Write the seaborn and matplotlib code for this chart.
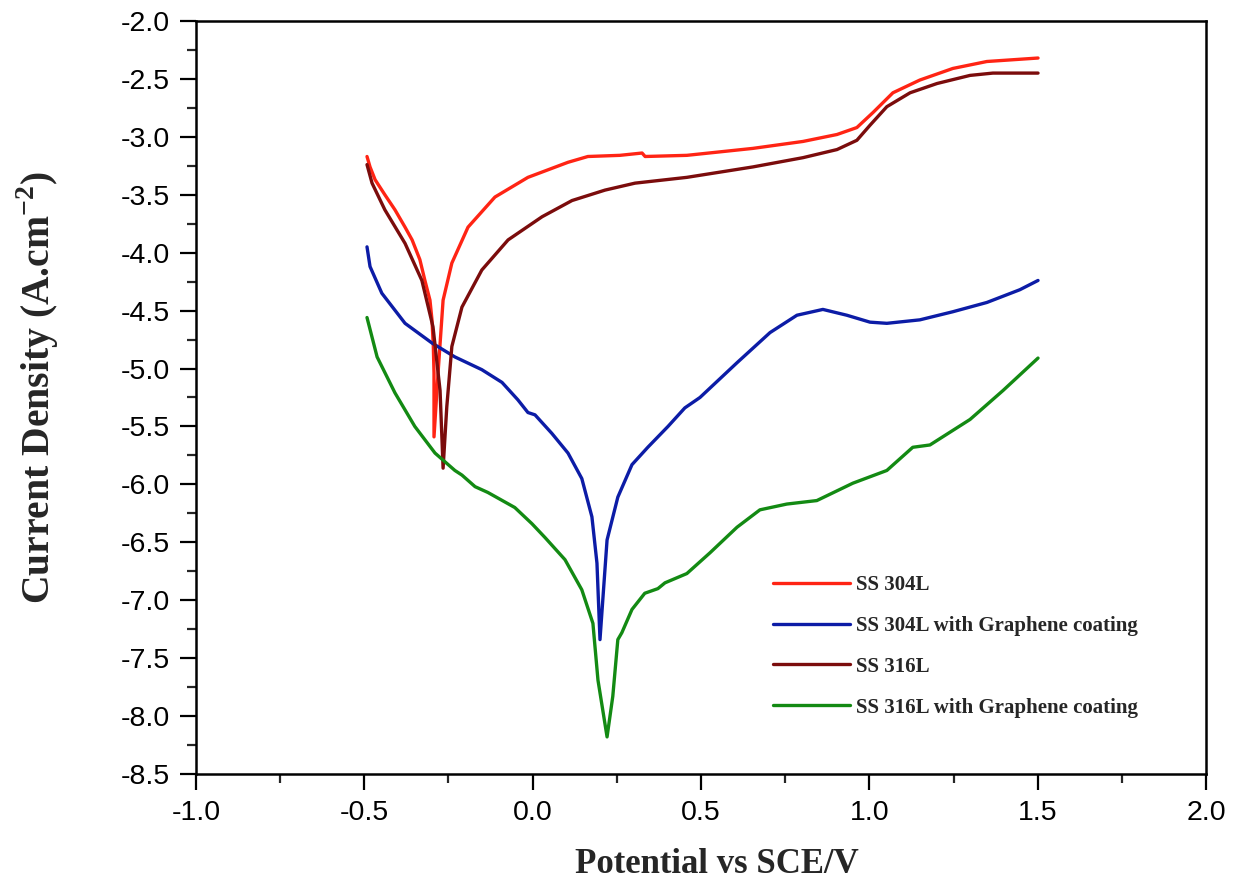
import numpy as np
import pandas as pd
import matplotlib
matplotlib.use("Agg")
import matplotlib.pyplot as plt
from matplotlib.ticker import MultipleLocator
import seaborn as sns

# ---------------- data ----------------
series_names = ["SS 304L", "SS 304L with Graphene coating",
                "SS 316L", "SS 316L with Graphene coating"]

ss304_x = [-0.492, -0.483, -0.468, -0.439, -0.409, -0.379, -0.358, -0.335,
           -0.320, -0.305, -0.299, -0.295, -0.293, -0.293,
           -0.281, -0.266, -0.240, -0.192, -0.112, -0.014, 0.105, 0.164,
           0.259, 0.325, 0.334, 0.458, 0.654, 0.803, 0.904, 0.963, 1.011,
           1.070, 1.150, 1.248, 1.349, 1.501]
ss304_y = [-3.17, -3.26, -3.37, -3.50, -3.63, -3.78, -3.89, -4.06,
           -4.24, -4.41, -4.58, -4.81, -5.04, -5.59,
           -5.04, -4.41, -4.09, -3.78, -3.52, -3.35, -3.22, -3.17,
           -3.16, -3.14, -3.17, -3.16, -3.10, -3.04, -2.98, -2.92, -2.79,
           -2.62, -2.51, -2.41, -2.35, -2.32]

ss304g_x = [-0.492, -0.483, -0.448, -0.379, -0.299, -0.231, -0.151, -0.091,
            -0.044, -0.014, 0.007, 0.057, 0.105, 0.146, 0.176, 0.191, 0.200,
            0.209, 0.221, 0.253, 0.295, 0.342, 0.402, 0.452, 0.497, 0.607,
            0.705, 0.785, 0.862, 0.933, 1.002, 1.052, 1.150, 1.248, 1.349,
            1.447, 1.501]
ss304g_y = [-3.95, -4.12, -4.35, -4.61, -4.78, -4.90, -5.01, -5.12,
            -5.27, -5.38, -5.40, -5.56, -5.73, -5.95, -6.28, -6.68, -7.34,
            -6.97, -6.48, -6.11, -5.83, -5.68, -5.50, -5.34, -5.25, -4.95,
            -4.69, -4.54, -4.49, -4.54, -4.60, -4.61, -4.58, -4.51, -4.43,
            -4.32, -4.24]

ss316_x = [-0.492, -0.477, -0.439, -0.379, -0.329, -0.296, -0.275, -0.266,
           -0.255, -0.240, -0.210, -0.151, -0.073, 0.028, 0.117, 0.215,
           0.304, 0.458, 0.654, 0.803, 0.904, 0.963, 1.002, 1.052, 1.121,
           1.201, 1.299, 1.367, 1.501]
ss316_y = [-3.24, -3.40, -3.63, -3.92, -4.24, -4.64, -5.19, -5.86,
           -5.33, -4.81, -4.47, -4.15, -3.89, -3.69, -3.55, -3.46,
           -3.40, -3.35, -3.26, -3.18, -3.11, -3.03, -2.90, -2.74, -2.62,
           -2.54, -2.47, -2.45, -2.45]

ss316g_x = [-0.492, -0.462, -0.409, -0.350, -0.290, -0.231, -0.210, -0.171,
            -0.133, -0.053, -0.002, 0.037, 0.096, 0.146, 0.179, 0.194, 0.221,
            0.238, 0.253, 0.265, 0.295, 0.333, 0.372, 0.393, 0.458, 0.527,
            0.607, 0.675, 0.755, 0.844, 0.951, 1.052, 1.129, 1.180, 1.299,
            1.397, 1.501]
ss316g_y = [-4.56, -4.90, -5.21, -5.50, -5.73, -5.88, -5.92, -6.02,
            -6.07, -6.20, -6.34, -6.46, -6.65, -6.91, -7.20, -7.69, -8.18,
            -7.83, -7.34, -7.28, -7.08, -6.94, -6.90, -6.85, -6.77, -6.59,
            -6.37, -6.22, -6.17, -6.14, -5.99, -5.88, -5.68, -5.66, -5.44,
            -5.19, -4.91]

x_ticks = [-1.0, -0.5, 0.0, 0.5, 1.0, 1.5, 2.0]
y_ticks = [-8.5, -8.0, -7.5, -7.0, -6.5, -6.0, -5.5, -5.0, -4.5, -4.0,
           -3.5, -3.0, -2.5, -2.0]

colors = ["#ff2414", "#0c1ca6", "#7b0c0c", "#138a13"]

# ---------------- build table ----------------
xs = [ss304_x, ss304g_x, ss316_x, ss316g_x]
ys = [ss304_y, ss304g_y, ss316_y, ss316g_y]
frames = []
for name, x, y in zip(series_names, xs, ys):
    frames.append(pd.DataFrame({"Potential": x, "Current": y, "Sample": name}))
df = pd.concat(frames, ignore_index=True)

# ---------------- plot ----------------
sns.set_theme(style="ticks")
plt.rcParams["font.family"] = ["Liberation Sans", "DejaVu Sans"]
plt.rcParams["mathtext.fontset"] = "custom"
plt.rcParams["mathtext.rm"] = "Liberation Serif"
plt.rcParams["mathtext.bf"] = "Liberation Serif:bold"

fig = plt.figure(figsize=(12.45, 8.88), dpi=100)
ax = fig.add_axes([0.1574, 0.1284, 0.8113, 0.848])

sns.lineplot(data=df, x="Potential", y="Current", hue="Sample",
             hue_order=series_names, palette=colors, sort=False,
             estimator=None, units="Sample", lw=2.4, ax=ax, legend=False)

ax.set_xlim(-1.0, 2.0)
ax.set_ylim(-8.5, -2.0)
ax.set_xticks(x_ticks)
ax.set_yticks(y_ticks)
ax.set_xticklabels([f"{v:.1f}" for v in x_ticks])
ax.set_yticklabels([f"{v:.1f}" for v in y_ticks])
ax.xaxis.set_minor_locator(MultipleLocator(0.25))
ax.yaxis.set_minor_locator(MultipleLocator(0.25))
ax.tick_params(which="major", direction="out", length=11.5, width=1.6,
               labelsize=20.5, colors="black", pad=7)
ax.tick_params(which="minor", direction="out", length=6.5, width=1.6)
ax.tick_params(top=False, right=False, which="both")
for s in ax.spines.values():
    s.set_visible(True)
    s.set_linewidth(1.8)
    s.set_color("black")

serif = ["Liberation Serif", "DejaVu Serif"]
ax.set_xlabel("Potential vs SCE/V", fontsize=25, fontweight="bold",
              family=serif)
ax.xaxis.set_label_coords(0.516, -0.098)
ax.set_ylabel(r"Current Density (A.cm$^{\mathbf{-2}}$)", fontsize=28.5,
              fontweight="bold", family=serif)
ax.yaxis.set_label_coords(-0.134, 0.513)

handles = [plt.Line2D([], [], color=c, lw=2.4) for c in colors]
leg = ax.legend(handles, series_names, loc="lower left",
                bbox_to_anchor=(0.553, 0.05), frameon=False,
                handlelength=3.7, handletextpad=0.25, labelspacing=1.0,
                prop={"family": serif, "weight": "bold", "size": 15})

fig.savefig("out.png", dpi=100, facecolor="white")
